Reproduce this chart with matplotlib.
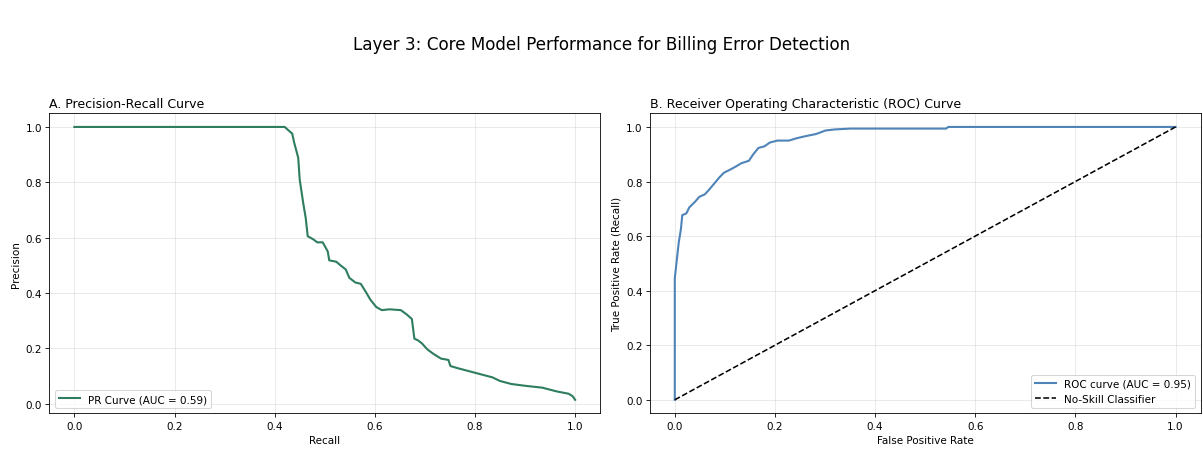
import matplotlib
matplotlib.use("Agg")
import matplotlib.pyplot as plt
import numpy as np

# precision-recall curve
recall = [0.0, 0.42, 0.428, 0.435, 0.439, 0.447, 0.45, 0.457, 0.462, 0.466, 0.477,
          0.485, 0.496, 0.506, 0.509, 0.523, 0.53, 0.542, 0.549, 0.561, 0.572,
          0.584, 0.591, 0.603, 0.614, 0.629, 0.652, 0.664, 0.674, 0.679, 0.686,
          0.694, 0.705, 0.717, 0.732, 0.747, 0.751, 0.766, 0.789, 0.812, 0.835,
          0.85, 0.873, 0.903, 0.934, 0.964, 0.987, 0.995, 1.0]
precision = [1.0, 1.0, 0.987, 0.976, 0.943, 0.889, 0.81, 0.725, 0.671, 0.605, 0.594,
             0.583, 0.583, 0.55, 0.518, 0.513, 0.502, 0.485, 0.455, 0.438, 0.433,
             0.398, 0.376, 0.349, 0.338, 0.341, 0.338, 0.322, 0.306, 0.235, 0.229,
             0.218, 0.196, 0.18, 0.163, 0.158, 0.136, 0.128, 0.117, 0.106, 0.095,
             0.082, 0.071, 0.064, 0.058, 0.044, 0.036, 0.027, 0.014]
pr_auc = 0.59

# ROC curve
fpr = [0.0, 0.0, 0.004, 0.008, 0.012, 0.015, 0.023, 0.029, 0.041, 0.049, 0.06,
       0.069, 0.079, 0.089, 0.098, 0.11, 0.121, 0.133, 0.148, 0.156, 0.167,
       0.179, 0.19, 0.205, 0.228, 0.244, 0.263, 0.282, 0.301, 0.32, 0.351,
       0.542, 0.546, 1.0]
tpr = [0.0, 0.445, 0.512, 0.578, 0.622, 0.677, 0.683, 0.705, 0.727, 0.744, 0.753,
       0.771, 0.793, 0.815, 0.832, 0.843, 0.854, 0.867, 0.876, 0.898, 0.923,
       0.929, 0.943, 0.95, 0.95, 0.959, 0.967, 0.974, 0.987, 0.991, 0.994,
       0.994, 1.0, 1.0]
roc_auc = 0.95

fig, (ax1, ax2) = plt.subplots(1, 2, figsize=(16, 5.985))
fig.subplots_adjust(left=0.041, right=0.998, bottom=0.079, top=0.746, wspace=0.09)
fig.suptitle("Layer 3: Core Model Performance for Billing Error Detection", fontsize=16, y=0.9, va="center")

ax1.plot(recall, precision, color="#2e7d5e", lw=2, label=f"PR Curve (AUC = {pr_auc:.2f})")
ax1.set_title("A. Precision-Recall Curve", loc="left", fontsize=12)
ax1.set_xlabel("Recall")
ax1.set_ylabel("Precision")
ax1.legend(loc="lower left")
ax1.grid(True, alpha=0.3)

ax2.plot(fpr, tpr, color="#4f84b8", lw=2, label=f"ROC curve (AUC = {roc_auc:.2f})")
ax2.plot([0, 1], [0, 1], "k--", lw=1.5, label="No-Skill Classifier")
ax2.set_title("B. Receiver Operating Characteristic (ROC) Curve", loc="left", fontsize=12)
ax2.set_xlabel("False Positive Rate")
ax2.set_ylabel("True Positive Rate (Recall)")
ax2.legend(loc="lower right")
ax2.grid(True, alpha=0.3)

fig.savefig("out.png", dpi=75.1875)
